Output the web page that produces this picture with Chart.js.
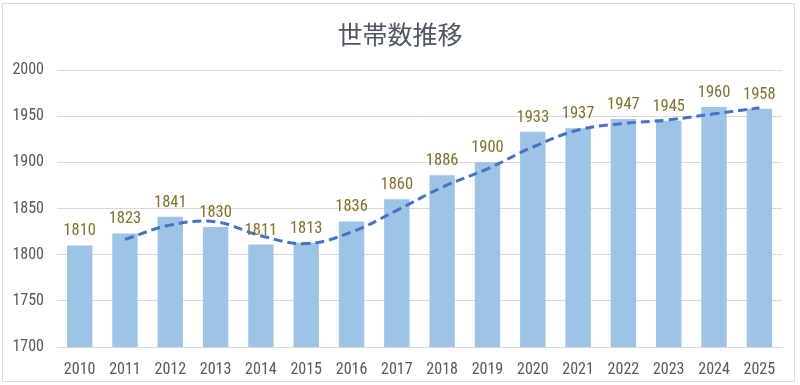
<!DOCTYPE html>
<html>
<head>
<meta charset="utf-8">
<script src="https://cdn.jsdelivr.net/npm/chart.js@4.4.1/dist/chart.umd.min.js"></script>
<style>
  html, body { margin: 0; padding: 0; background: #fff; }
  #wrap { width: 800px; height: 385px; }
</style>
</head>
<body>
<div id="wrap"><canvas id="households" width="800" height="385"></canvas></div>
<script>
// data
const years = ['2010', '2011', '2012', '2013', '2014', '2015', '2016', '2017',
               '2018', '2019', '2020', '2021', '2022', '2023', '2024', '2025'];
const households = [1810, 1823, 1841, 1830, 1811, 1813, 1836, 1860,
                    1886, 1900, 1933, 1937, 1947, 1945, 1960, 1958];
// dashed trend line (starts at 2011)
const trend = [null, 1816.5, 1832, 1835.5, 1820.5, 1812, 1824.5, 1848,
               1873, 1893, 1916.5, 1935, 1942, 1946, 1952.5, 1959];
const yTicks = [1700, 1750, 1800, 1850, 1900, 1950, 2000];

const numFont = "'Roboto Condensed', 'DejaVu Sans Condensed', sans-serif";
const titleText = '世帯数推移';

// frame, title and the value labels on top of the bars
const decorations = {
    id: 'decorations',
    beforeDraw(chart) {
        const ctx = chart.ctx;
        ctx.save();
        ctx.fillStyle = '#ffffff';
        ctx.fillRect(0, 0, chart.width, chart.height);
        ctx.strokeStyle = '#dcdcdc';
        ctx.lineWidth = 1;
        ctx.strokeRect(2.5, 3.5, 792, 378);
        ctx.restore();
    },
    afterDraw(chart) {
        const ctx = chart.ctx;
        ctx.save();
        ctx.fillStyle = '#4d5666';
        ctx.font = "25px 'Noto Sans CJK JP', sans-serif";
        ctx.textAlign = 'center';
        ctx.textBaseline = 'middle';
        ctx.fillText(titleText, 400, 34);

        const meta = chart.getDatasetMeta(1);
        ctx.fillStyle = '#85702a';
        ctx.font = '16.5px ' + numFont;
        ctx.textBaseline = 'alphabetic';
        meta.data.forEach((bar, i) => {
            ctx.fillText(String(households[i]), bar.x, bar.y - 10);
        });
        ctx.restore();
    }
};

new Chart(document.getElementById('households').getContext('2d'), {
    type: 'bar',
    data: {
        labels: years,
        datasets: [{
            type: 'line',
            data: trend,
            borderColor: '#4472c4',
            borderWidth: 3,
            borderDash: [9, 5],
            pointRadius: 0,
            tension: 0.4,
            fill: false,
            spanGaps: false,
            order: 0,
        }, {
            type: 'bar',
            data: households,
            backgroundColor: '#9dc3e6',
            categoryPercentage: 1,
            barPercentage: 0.56,
            order: 1,
        }]
    },
    options: {
        responsive: false,
        animation: false,
        layout: {
            padding: { top: 70, right: 18, bottom: 0, left: 0 }
        },
        plugins: {
            legend: { display: false },
            title: { display: false },
            tooltip: { enabled: false }
        },
        scales: {
            y: {
                min: 1700,
                max: 2000,
                afterFit: (s) => { s.width = 57; },
                afterBuildTicks: (s) => { s.ticks = yTicks.map(v => ({ value: v })); },
                ticks: {
                    color: '#595959',
                    padding: 13,
                    font: { family: numFont, size: 16 },
                    callback: (value) => String(value)
                },
                grid: {
                    color: '#d9d9d9',
                    drawTicks: false,
                },
                border: { display: false }
            },
            x: {
                afterFit: (s) => { s.height = 38; },
                ticks: {
                    color: '#595959',
                    padding: 5,
                    maxRotation: 0,
                    font: { family: numFont, size: 16 }
                },
                grid: { display: false },
                border: { color: '#d9d9d9' }
            }
        }
    },
    plugins: [decorations]
});
</script>
</body>
</html>
